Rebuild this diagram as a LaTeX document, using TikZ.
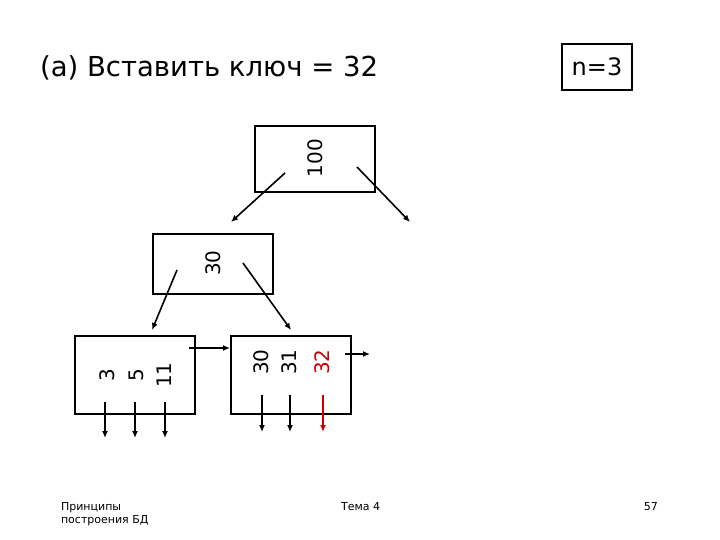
\documentclass[tikz,border=0pt]{standalone}
\usepackage{fontspec}
\setmainfont{DejaVu Sans}
\usetikzlibrary{arrows.meta}
\begin{document}
\begin{tikzpicture}[x=1pt,y=-1pt,line width=1.4pt,
  arr/.style={-{Latex[length=7pt,width=6pt]},line width=1.6pt},
  key/.style={rotate=90,font=\fontsize{20}{21}\selectfont},
  foot/.style={font=\fontsize{11}{13}\selectfont}]
\useasboundingbox (0,0) rectangle (720,540);
\node[anchor=west,font=\fontsize{27.5}{30}\selectfont] (title) at (36,68) {(a) Вставить ключ = 32};
\node[draw,line width=1.8pt,inner sep=0pt,minimum width=70,minimum height=46,font=\fontsize{24}{26}\selectfont] (n) at (597,67) {n=3};
\draw (255,126) rectangle (375,192);
\node[key] (k100) at (315,158) {100};
\draw (153,234) rectangle (273,294);
\node[key] (k30) at (213,263) {30};
\draw (75,336) rectangle (195,414);
\node[key] (k3) at (107,375) {3};
\node[key] (k5) at (136,375) {5};
\node[key] (k11) at (164,375) {11};
\draw (231,336) rectangle (351,414);
\node[key] (k30b) at (261,362) {30};
\node[key] (k31) at (289,362) {31};
\node[key,text=red!80!black] (k32) at (322,362) {32};
\coordinate (a1) at (285,173); \coordinate (a1e) at (231,222);
\coordinate (a2) at (357,167); \coordinate (a2e) at (410,222);
\draw[arr] (a1) -- (a1e); \draw[arr] (a2) -- (a2e);
\coordinate (b1) at (177,270); \coordinate (b1e) at (152,330);
\coordinate (b2) at (243,263); \coordinate (b2e) at (291,330);
\draw[arr] (b1) -- (b1e); \draw[arr] (b2) -- (b2e);
\coordinate (c1) at (189,348); \coordinate (c1e) at (230,348);
\draw[arr] (c1) -- (c1e);
\coordinate (c2) at (345,354); \coordinate (c2e) at (370,354);
\draw[arr] (c2) -- (c2e);
\foreach \x/\n in {105/p1,135/p2,165/p3}{
  \coordinate (\n) at (\x,402); \coordinate (\n e) at (\x,438);
  \draw[arr] (\n) -- (\n e);}
\foreach \x/\n in {262/q1,290/q2}{
  \coordinate (\n) at (\x,395); \coordinate (\n e) at (\x,432);
  \draw[arr] (\n) -- (\n e);}
\coordinate (q3) at (323,395); \coordinate (q3e) at (323,432);
\draw[arr,red!80!black] (q3) -- (q3e);
\node[foot,anchor=north west,align=left] (f1) at (57,498) {Принципы\\построения БД};
\node[foot,anchor=north west] (f2) at (337,498) {Тема 4};
\node[foot,anchor=north east] (f3) at (662,498) {57};
\end{tikzpicture}
\end{document}
